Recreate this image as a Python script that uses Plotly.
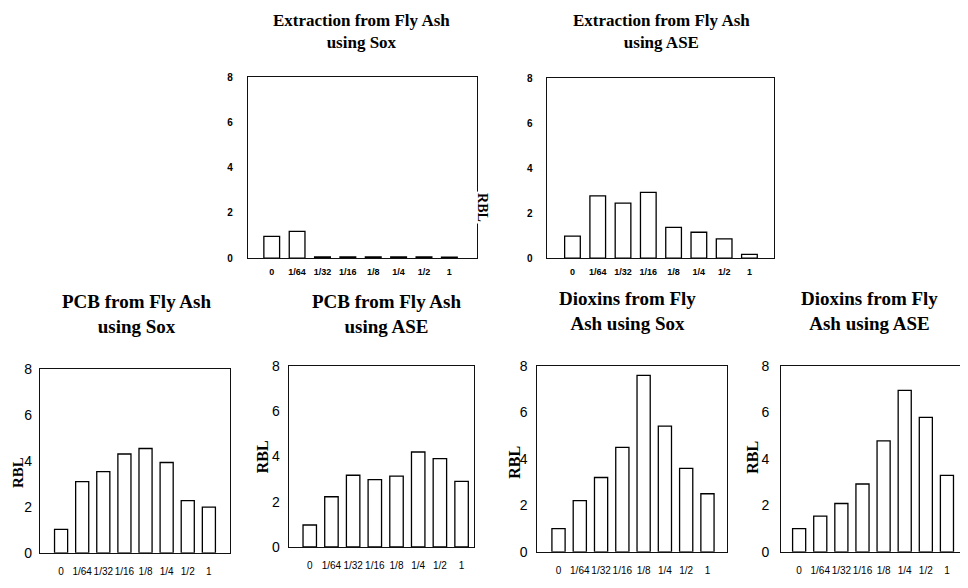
import plotly.graph_objects as go

# ---------------- data ----------------
categories = ["0", "1/64", "1/32", "1/16", "1/8", "1/4", "1/2", "1"]
y_ticks = [0, 2, 4, 6, 8]

extraction_sox = [0.96, 1.18, 0.05, 0.05, 0.05, 0.05, 0.05, 0.04]
extraction_ase = [0.98, 2.77, 2.45, 2.92, 1.37, 1.15, 0.86, 0.17]
pcb_sox = [1.02, 3.10, 3.53, 4.30, 4.54, 3.93, 2.27, 1.99]
pcb_ase = [0.97, 2.22, 3.17, 2.98, 3.13, 4.20, 3.91, 2.90]
dioxins_sox = [1.00, 2.20, 3.20, 4.50, 7.60, 5.41, 3.59, 2.50]
dioxins_ase = [1.00, 1.54, 2.08, 2.92, 4.78, 6.95, 5.79, 3.29]

titles = [
    "Extraction from Fly Ash<br>using Sox",
    "Extraction from Fly Ash<br>using ASE",
    "PCB from Fly Ash<br>using Sox",
    "PCB from Fly Ash<br>using ASE",
    "Dioxins from Fly<br>Ash using Sox",
    "Dioxins from Fly<br>Ash using ASE",
]
axis_label = "RBL"

# ---------------- layout (page pixels) ----------------
OFF = 8            # default body margin of the page
W, H = 960, 580    # figure size so that it ends exactly at the window edge


def px(xp):
    return (xp - OFF) / W


def py(yp):
    return 1 - (yp - OFF) / H


series = [extraction_sox, extraction_ase, pcb_sox, pcb_ase, dioxins_sox, dioxins_ase]
boxes = [  # (left, right, top, bottom) of each plot box in page pixels
    (248, 477, 71, 257),
    (548, 775, 72, 257),
    (40, 230, 371, 560),
    (289, 474, 368, 554),
    (538, 728, 368, 559),
    (782, 968, 368, 559),
]
xranges = [
    [-0.945, 8.07],
    [-0.99, 7.98],
    [-1.0, 7.99],
    [-0.97, 7.55],
    [-0.99, 7.93],
    [-0.85, 7.95],
]
title_pos = [  # (center x, center y, font size)
    (362, 24, 17),
    (662, 24, 17),
    (137, 314, 19),
    (387, 314, 19),
    (628, 311, 19),
    (870, 311, 19),
]
rbl_pos = [  # (x, y, angle, size)
    (483, 205, 90, 14),
    None,
    (18, 477, -90, 15),
    (263, 461, -90, 16),
    (515, 467, -90, 16),
    (753, 462, -90, 16),
]
ytick_standoff = [12, 12, 4, 5, 6, 8]

fig = go.Figure()
annotations = []
serif = "Liberation Serif"
sans = "Liberation Sans"

for i, vals in enumerate(series):
    n = i + 1
    xa = "x" if n == 1 else f"x{n}"
    ya = "y" if n == 1 else f"y{n}"
    top_row = i < 2
    fig.add_trace(go.Bar(
        x=categories, y=vals, xaxis=xa, yaxis=ya,
        width=0.62,
        marker=dict(color="white", line=dict(color="black", width=1.3)),
        showlegend=False, hoverinfo="x+y",
    ))
    l, r, t, b = boxes[i]
    xkey = "xaxis" if n == 1 else f"xaxis{n}"
    ykey = "yaxis" if n == 1 else f"yaxis{n}"
    fig.update_layout(**{
        xkey: dict(
            domain=[px(l), min(px(r), 1.0)], anchor=ya, type="category",
            range=xranges[i], showline=True, mirror=True,
            linecolor="#111", linewidth=1, showgrid=False, zeroline=False,
            ticks="", tickangle=0, ticklabelstandoff=5 if top_row else 9,
            tickfont=dict(family=sans, size=9 if top_row else 10,
                          color="black", weight="bold" if top_row else "normal"),
        ),
        ykey: dict(
            domain=[py(b), py(t)], anchor=xa,
            range=[0, 8], tickvals=y_ticks, showline=True, mirror=True,
            linecolor="#111", linewidth=1, showgrid=False, zeroline=False,
            ticks="", ticklabelstandoff=ytick_standoff[i],
            tickfont=dict(family=sans, size=10 if top_row else 14,
                          color="black", weight="bold" if top_row else "normal"),
        ),
    })
    cx, cy, fs = title_pos[i]
    annotations.append(dict(
        text=f"<b>{titles[i]}</b>", x=px(cx), y=py(cy), xref="paper", yref="paper",
        xanchor="center", yanchor="middle", showarrow=False,
        font=dict(family=serif, size=fs, color="black"),
    ))
    if rbl_pos[i] is not None:
        rx, ry, ang, rs = rbl_pos[i]
        annotations.append(dict(
            text=f"<b>{axis_label}</b>", x=px(rx), y=py(ry), xref="paper", yref="paper",
            xanchor="center", yanchor="middle", showarrow=False, textangle=ang,
            bgcolor="white" if i == 0 else None,
            font=dict(family=serif, size=rs, color="black"),
        ))

fig.update_layout(
    width=W, height=H, margin=dict(l=0, r=0, t=0, b=0),
    paper_bgcolor="white", plot_bgcolor="white",
    annotations=annotations,
)

fig.write_html("out.html")
